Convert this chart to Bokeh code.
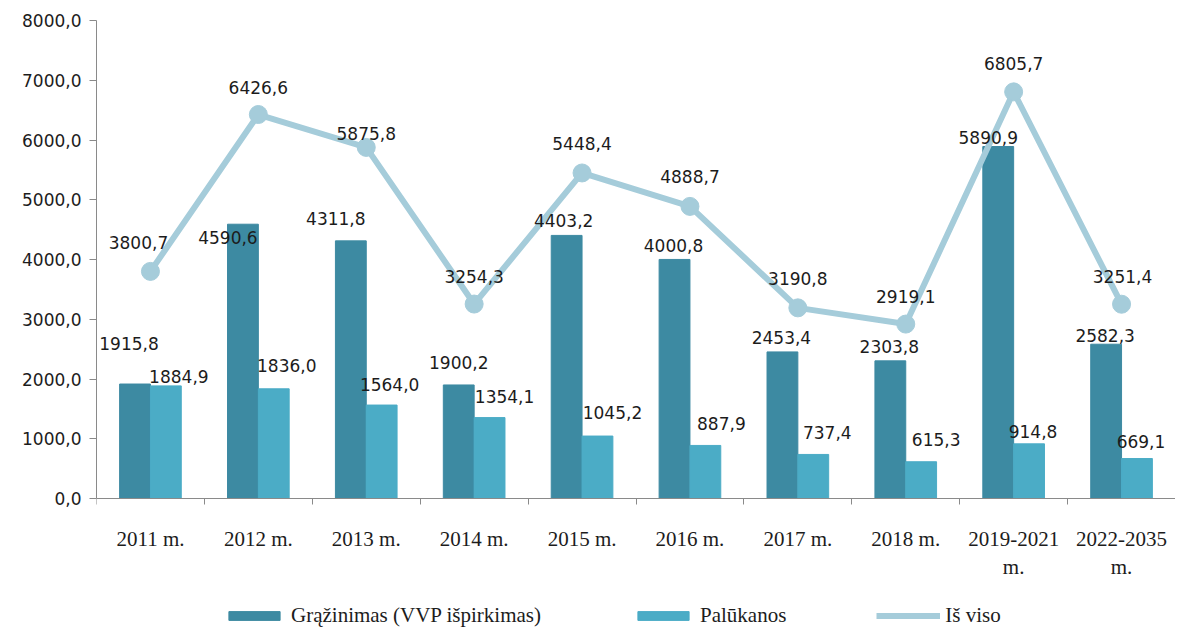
from bokeh.plotting import figure
from bokeh.models import (Range1d, FixedTicker, ColumnDataSource, Legend, LegendItem, LinearAxis)
from bokeh.core.properties import value
from bokeh.embed import file_html
from bokeh.resources import INLINE

# ---- data ----
categories = ["2011 m.", "2012 m.", "2013 m.", "2014 m.", "2015 m.", "2016 m.",
              "2017 m.", "2018 m.", "2019-2021\nm.", "2022-2035\nm."]
grazinimas = [1915.8, 4590.6, 4311.8, 1900.2, 4403.2, 4000.8, 2453.4, 2303.8, 5890.9, 2582.3]
palukanos = [1884.9, 1836.0, 1564.0, 1354.1, 1045.2, 887.9, 737.4, 615.3, 914.8, 669.1]
is_viso = [3800.7, 6426.6, 5875.8, 3254.3, 5448.4, 4888.7, 3190.8, 2919.1, 6805.7, 3251.4]
y_ticks = [0, 1000, 2000, 3000, 4000, 5000, 6000, 7000, 8000]

# ---- label placement (pixel offsets, styling only) ----
dark_dx = [-6, -15, -15, 0, -3, -1, -1, -1, -10, -1]
dark_dy = [-41, 13, -22, -22, -15, -14, -14, -14, -9, -9]
light_dx = [13, 13, 8, 15, 15, 16, 14, 15, 4, 4]
light_dy = [-9, -23, -21, -21, -24, -22, -22, -22, -12, -17]
line_dx = [-12, 0, 0, 0, 0, 0, 0, 0, 0, 1]
line_dy = [-29, -27, -14, -28, -29, -30, -29, -28, -28, -28]

DARK = "#3D8AA2"
LIGHT = "#4BACC6"
LINE = "#A5CCDA"
TXT = "#1c1c1c"
AX = "#8a8a8a"

def fmt(v):
    return f"{v:.1f}".replace(".", ",")

n = len(categories)
xs = list(range(n))
bw = 0.2857
src = ColumnDataSource(dict(
    x=xs,
    xd=[x - bw / 2 for x in xs],
    xl=[x + bw / 2 for x in xs],
    g=grazinimas, pl=palukanos, t=is_viso,
    gl=[fmt(v) for v in grazinimas],
    pll=[fmt(v) for v in palukanos],
    tl=[fmt(v) for v in is_viso],
    ddx=dark_dx, ddy=dark_dy, ldx=light_dx, ldy=light_dy,
    tdx=line_dx, tdy=line_dy,
))

# frame runs to the bottom of the canvas; value 0 sits 130 px above it,
# so the category axis, its labels and the legend live inside the frame
H, TOP, BELOW = 628, 20, 130
plot_px = H - TOP - BELOW
ymax = max(y_ticks)
ymin = -ymax * BELOW / plot_px

p = figure(width=1175, height=H, output_backend="svg",
           toolbar_location=None, x_range=Range1d(-0.5, n - 0.5),
           y_range=Range1d(ymin, ymax), x_axis_location=None,
           min_border_left=96, min_border_right=0,
           min_border_top=TOP, min_border_bottom=0)
p.outline_line_color = None
p.xgrid.visible = False
p.ygrid.visible = False
p.background_fill_color = "white"
p.border_fill_color = "white"

r_dark = p.vbar(x="xd", top="g", width=bw, source=src, fill_color=DARK, line_color=DARK)
r_light = p.vbar(x="xl", top="pl", width=bw, source=src, fill_color=LIGHT, line_color=LIGHT)
r_line = p.line(x="x", y="t", source=src, line_color=LINE, line_width=6)
r_pts = p.scatter(x="x", y="t", source=src, size=18, fill_color=LINE, line_color=LINE)

lab_font = value("DejaVu Sans")
common = dict(text_font=lab_font, text_font_size="17px", text_color=TXT,
              text_align="center", text_baseline="middle", source=src)
p.text(x="xd", y="g", text="gl", x_offset="ddx", y_offset="ddy", **common)
p.text(x="xl", y="pl", text="pll", x_offset="ldx", y_offset="ldy", **common)
p.text(x="x", y="t", text="tl", x_offset="tdx", y_offset="tdy", **common)

# x axis at value 0: ticks at category boundaries, labels at centres
xa = LinearAxis(fixed_location=0)
xa.ticker = FixedTicker(ticks=xs, minor_ticks=[x - 0.5 for x in range(n + 1)])
xa.major_label_overrides = {x: c for x, c in zip(xs, categories)}
xa.major_tick_line_color = None
xa.minor_tick_line_color = AX
xa.minor_tick_in = 0
xa.minor_tick_out = 6
xa.axis_line_color = AX
xa.major_label_standoff = 22
xa.major_label_text_font = "Liberation Serif"
xa.major_label_text_font_size = "21px"
xa.major_label_text_color = TXT
p.add_layout(xa, "below")

ya = p.yaxis[0]
ya.bounds = (0, ymax)
ya.ticker = FixedTicker(ticks=y_ticks, minor_ticks=[])
ya.major_label_overrides = {t: fmt(t) for t in y_ticks}
ya.major_tick_line_color = AX
ya.major_tick_in = 0
ya.major_tick_out = 7
ya.minor_tick_line_color = None
ya.axis_line_color = AX
ya.major_label_standoff = 8
ya.major_label_text_font = "DejaVu Sans"
ya.major_label_text_font_size = "17px"
ya.major_label_text_color = TXT

legend = Legend(items=[
    LegendItem(label="Grąžinimas (VVP išpirkimas)", renderers=[r_dark]),
    LegendItem(label="Palūkanos", renderers=[r_light]),
    LegendItem(label="Iš viso", renderers=[r_line, r_pts]),
], orientation="horizontal", location=(126, 0), glyph_width=64, glyph_height=11,
   label_text_font="Liberation Serif", label_text_font_size="21px",
   label_text_color=TXT, label_standoff=5, spacing=90, padding=0, margin=0,
   border_line_color=None, background_fill_alpha=0)
p.add_layout(legend, "center")

open("out.html", "w").write(file_html(p, INLINE))
